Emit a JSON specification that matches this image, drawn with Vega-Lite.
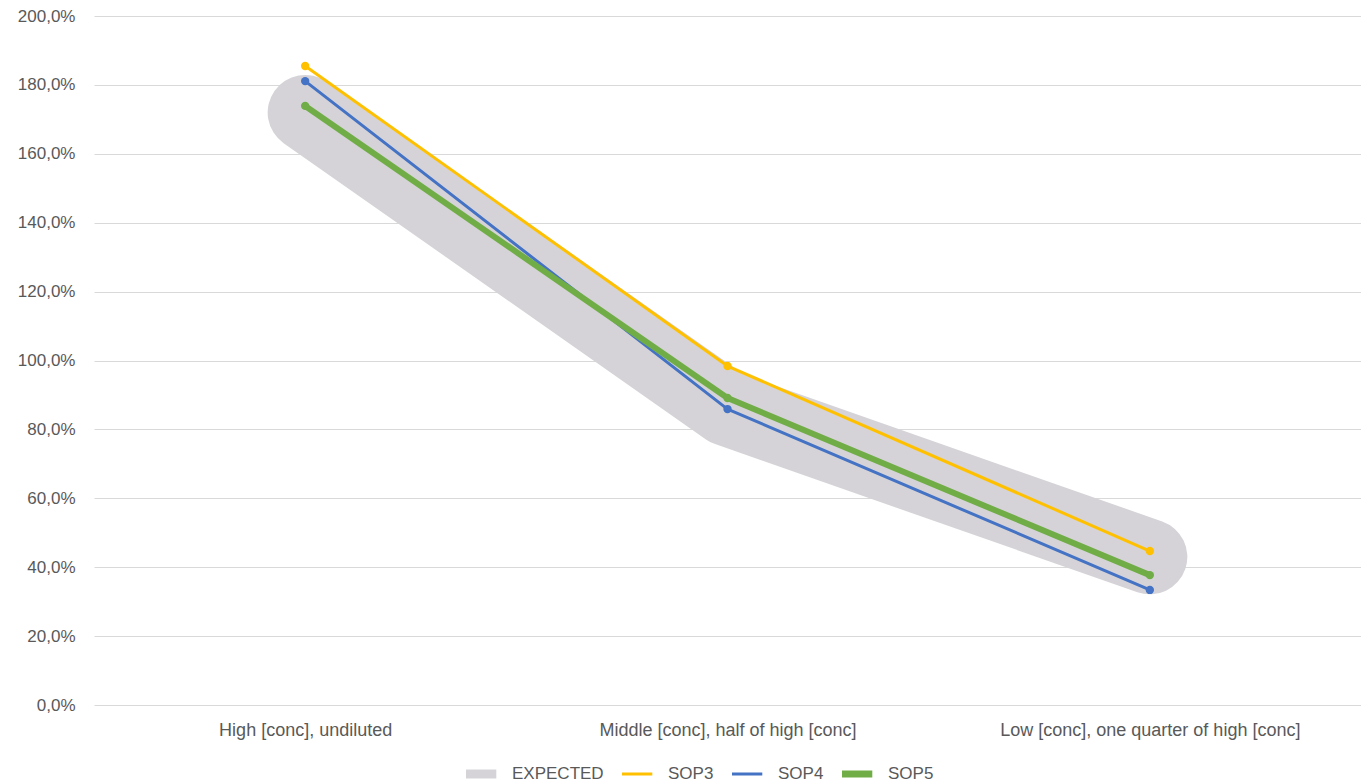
{
  "$schema": "https://vega.github.io/schema/vega-lite/v6.json",
  "width": 1267,
  "height": 689,
  "autosize": {"type": "none"},
  "padding": {"left": 94, "top": 16, "right": 0, "bottom": 78},
  "background": "white",
  "config": {
    "view": {"stroke": null},
    "font": "Liberation Sans",
    "axis": {"labelColor": "#595959", "labelFontSize": 17, "titleColor": "#595959", "labelLimit": 600}
  },
  "data": {
    "values": [
      {"cat": "High [conc], undiluted", "series": "EXPECTED", "value": 172},
      {"cat": "Middle [conc], half of high [conc]", "series": "EXPECTED", "value": 86},
      {"cat": "Low [conc], one quarter of high [conc]", "series": "EXPECTED", "value": 43},
      {"cat": "High [conc], undiluted", "series": "SOP3", "value": 185.5},
      {"cat": "Middle [conc], half of high [conc]", "series": "SOP3", "value": 98.4},
      {"cat": "Low [conc], one quarter of high [conc]", "series": "SOP3", "value": 44.7},
      {"cat": "High [conc], undiluted", "series": "SOP4", "value": 181.1},
      {"cat": "Middle [conc], half of high [conc]", "series": "SOP4", "value": 85.9},
      {"cat": "Low [conc], one quarter of high [conc]", "series": "SOP4", "value": 33.4},
      {"cat": "High [conc], undiluted", "series": "SOP5", "value": 173.9},
      {"cat": "Middle [conc], half of high [conc]", "series": "SOP5", "value": 89.1},
      {"cat": "Low [conc], one quarter of high [conc]", "series": "SOP5", "value": 37.7}
    ]
  },
  "encoding": {
    "x": {
      "field": "cat",
      "type": "ordinal",
      "sort": ["High [conc], undiluted", "Middle [conc], half of high [conc]", "Low [conc], one quarter of high [conc]"],
      "scale": {"type": "point", "padding": 0.5},
      "axis": {"title": null, "labelAngle": 0, "ticks": false, "domain": false, "grid": false, "labelPadding": 16, "labelFontSize": 18}
    },
    "y": {
      "field": "value",
      "type": "quantitative",
      "scale": {"domain": [0, 200], "nice": false},
      "axis": {
        "title": null,
        "values": [0, 20, 40, 60, 80, 100, 120, 140, 160, 180, 200],
        "labelExpr": "replace(format(datum.value, '.1f'), '.', ',') + '%'",
        "ticks": false,
        "domain": false,
        "gridColor": "#D9D9D9",
        "gridWidth": 1,
        "labelPadding": 19
      }
    },
    "color": {
      "field": "series",
      "type": "nominal",
      "scale": {"domain": ["EXPECTED", "SOP3", "SOP4", "SOP5"], "range": ["#D5D3D7", "#FFC000", "#4472C4", "#70AD47"]},
      "legend": {
        "title": null,
        "orient": "none",
        "direction": "horizontal",
        "legendX": 372,
        "legendY": 738,
        "symbolType": "stroke",
        "symbolSize": 1900,
        "symbolStrokeWidth": 3,
        "clipHeight": 40,
        "labelFontSize": 17,
        "labelColor": "#595959",
        "labelOffset": 29,
        "columnPadding": 18,
        "encode": {
          "symbols": {"update": {"strokeWidth": {"signal": "datum.value === 'EXPECTED' ? 9 : datum.value === 'SOP5' ? 7 : 3"}}}
        }
      }
    }
  },
  "layer": [
    {
      "transform": [{"filter": "datum.series === 'EXPECTED'"}],
      "mark": {"type": "line", "strokeWidth": 75, "strokeCap": "round", "strokeJoin": "round"}
    },
    {
      "transform": [{"filter": "datum.series === 'SOP3' || datum.series === 'SOP4'"}],
      "mark": {"type": "line", "strokeWidth": 3, "strokeCap": "round", "strokeJoin": "round"}
    },
    {
      "transform": [{"filter": "datum.series === 'SOP5'"}],
      "mark": {"type": "line", "strokeWidth": 6, "strokeCap": "round", "strokeJoin": "round"}
    },
    {
      "transform": [{"filter": "datum.series !== 'EXPECTED'"}],
      "mark": {"type": "point", "filled": true, "size": 70, "opacity": 1}
    }
  ]
}
